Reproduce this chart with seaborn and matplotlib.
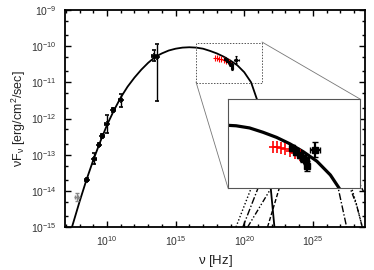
import numpy as np
import pandas as pd
import matplotlib
matplotlib.use("Agg")
import matplotlib.pyplot as plt
import matplotlib.ticker as mticker
from matplotlib.patches import Rectangle
import seaborn as sns

sns.set_theme(style="ticks")
plt.rcParams["font.family"] = ["Liberation Sans", "DejaVu Sans"]
plt.rcParams["mathtext.fontset"] = "custom"
plt.rcParams["mathtext.rm"] = "Liberation Sans"
plt.rcParams["mathtext.it"] = "Liberation Sans"
plt.rcParams["mathtext.default"] = "regular"

# synchrotron model curve (log10 nu, log10 nuFnu)
sync_lognu = [7.45, 8.0, 8.5, 9.0, 9.5, 10.0, 10.5, 11.0, 11.5, 12.0, 12.5, 13.0, 13.5,
              14.0, 14.5, 15.0, 15.5, 16.0, 16.5, 17.0, 17.5, 18.0, 18.5, 19.0, 19.5,
              20.0, 20.5, 21.0, 21.4, 21.8, 22.2]
sync_logf = [-15.0, -14.3, -13.7, -13.15, -12.65, -12.18, -11.78, -11.42, -11.12, -10.87,
             -10.65, -10.46, -10.3, -10.2, -10.12, -10.07, -10.04, -10.03, -10.04, -10.07,
             -10.13, -10.2, -10.29, -10.4, -10.53, -10.72, -11.0, -11.55, -12.3, -13.4, -15.0]

# inverse Compton components (mostly hidden behind the inset)
ic_a_lognu = [19.4, 20.5, 22.0, 24.0, 26.0, 27.5, 28.2, 28.6]
ic_a_logf = [-15.0, -13.93, -12.9, -12.3, -12.6, -13.5, -14.4, -15.0]
ic_b_lognu = [19.9, 21.0, 22.5, 24.5, 26.0, 26.85, 27.46]
ic_b_logf = [-15.0, -13.93, -12.9, -12.4, -13.0, -13.93, -15.0]
ic_c_lognu = [20.25, 21.95, 23.5, 25.0, 27.0, 28.19, 28.6]
ic_c_logf = [-15.0, -13.93, -13.0, -12.7, -13.2, -14.4, -15.0]
ic_d_lognu = [21.7, 22.55, 24.0, 26.0, 28.0, 28.8]
ic_d_logf = [-15.0, -13.93, -13.0, -12.8, -13.5, -14.1]

# radio / mm / optical points
low_lognu = [8.52, 9.07, 9.42, 9.66, 9.98, 10.46, 11.0, 13.4, 13.62]
low_logf = [-13.69, -13.11, -12.72, -12.49, -12.16, -11.76, -11.5, -10.26, -10.3]
low_err_lo = [0.05, 0.15, 0.05, 0.05, 0.25, 0.05, 0.18, 0.16, 1.22]
low_err_hi = [0.05, 0.15, 0.05, 0.05, 0.25, 0.05, 0.18, 0.16, 0.35]
gray_lognu = [7.79]
gray_logf = [-14.17]
gray_err = [0.12]

# X-ray points
red_lognu = [17.87, 18.02, 18.17, 18.32, 18.5, 18.69, 18.87]
red_logf = [-10.33, -10.33, -10.35, -10.36, -10.39, -10.42, -10.44]
red_yerr = [0.08, 0.08, 0.08, 0.08, 0.08, 0.08, 0.08]
red_xerr = [0.15, 0.15, 0.15, 0.15, 0.15, 0.15, 0.15]
blk_lognu = [18.58, 18.72, 18.87, 18.98, 19.1, 19.13, 19.43]
blk_logf = [-10.35, -10.4, -10.44, -10.49, -10.51, -10.6, -10.37]
blk_yerr = [0.05, 0.05, 0.05, 0.05, 0.06, 0.07, 0.1]
blk_xerr = [0.05, 0.05, 0.05, 0.05, 0.05, 0.05, 0.19]


def p10(v):
    return np.power(10.0, np.asarray(v, dtype=float))


def asym(logf, lo, hi):
    f = p10(logf)
    return [f - p10(np.asarray(logf) - np.asarray(lo)), p10(np.asarray(logf) + np.asarray(hi)) - f]


def xasym(lognu, e):
    n = p10(lognu)
    return [n - p10(np.asarray(lognu) - np.asarray(e)), p10(np.asarray(lognu) + np.asarray(e)) - n]


def draw_curve(ax, lognu, logf, lw, ls="-"):
    d = pd.DataFrame({"nu": p10(lognu), "f": p10(logf)})
    sns.lineplot(data=d, x="nu", y="f", ax=ax, color="black", lw=lw, linestyle=ls,
                 estimator=None, sort=False)


fig = plt.figure(figsize=(3.74, 2.70), dpi=100)
ax = fig.add_axes([65 / 374, 43 / 270, 300 / 374, 217 / 270])
ax.set_xscale("log")
ax.set_yscale("log")

draw_curve(ax, ic_a_lognu, ic_a_logf, 1.0, (0, (1, 1.5)))
draw_curve(ax, ic_b_lognu, ic_b_logf, 1.0, (0, (5, 1.5, 1, 1.5)))
draw_curve(ax, ic_c_lognu, ic_c_logf, 1.0, (0, (4, 1.5, 1, 1.5, 1, 1.5)))
draw_curve(ax, ic_d_lognu, ic_d_logf, 1.0, (0, (3, 1.5)))
draw_curve(ax, sync_lognu, sync_logf, 1.3)

ax.errorbar(p10(gray_lognu), p10(gray_logf), yerr=asym(gray_logf, gray_err, gray_err),
            xerr=xasym(gray_lognu, [0.12]), fmt="+", color="#888888", ms=4, mew=1,
            elinewidth=0.8, capsize=1.5)
ax.errorbar(p10(low_lognu), p10(low_logf), yerr=asym(low_logf, low_err_lo, low_err_hi),
            xerr=xasym(low_lognu, [0.1] * len(low_lognu)), fmt="+", color="black", ms=4,
            mew=1.2, elinewidth=1, capsize=1.5)
ax.errorbar(p10(blk_lognu), p10(blk_logf), yerr=asym(blk_logf, blk_yerr, blk_yerr),
            xerr=xasym(blk_lognu, blk_xerr), fmt="s", color="black", ms=2, mew=0.8,
            elinewidth=1, capsize=1)
ax.errorbar(p10(red_lognu), p10(red_logf), yerr=asym(red_logf, red_yerr, red_yerr),
            xerr=xasym(red_lognu, red_xerr), fmt="none", color="red", elinewidth=0.8)

ax.set_xlim(10 ** 6.94, 10 ** 28.8)
ax.set_ylim(1e-15, 1e-9)

ax.xaxis.set_major_locator(mticker.FixedLocator([1e10, 1e15, 1e20, 1e25]))
ax.xaxis.set_minor_locator(mticker.FixedLocator(p10(np.arange(7, 29))))
ax.yaxis.set_major_locator(mticker.LogLocator(base=10, numticks=10))
ax.yaxis.set_minor_locator(mticker.LogLocator(base=10, subs=(2.0, 5.0), numticks=10))
fmt = mticker.FuncFormatter(lambda v, p: r"$10^{%d}$" % int(round(np.log10(v))))
ax.xaxis.set_major_formatter(fmt)
ax.yaxis.set_major_formatter(fmt)
ax.yaxis.set_minor_formatter(mticker.NullFormatter())
ax.xaxis.set_minor_formatter(mticker.NullFormatter())
ax.tick_params(which="both", direction="in", top=True, right=True, color="black",
               labelcolor="#333333", labelsize=7.5)
ax.tick_params(which="major", length=4, width=1)
ax.tick_params(which="minor", length=2.5, width=1)
ax.tick_params(axis="y", pad=6)
ax.tick_params(axis="x", pad=5)
for s in ax.spines.values():
    s.set_linewidth(1.3)
    s.set_color("black")

ax.set_xlabel(r"$\nu$ [Hz]", fontsize=9.5, color="#222222", labelpad=4)
ax.set_ylabel(r"$\nu$F$_\nu$ [erg/cm$^2$/sec]", fontsize=9, color="#222222", labelpad=2)

# dotted zoom box and connector lines
ax.add_patch(Rectangle((10 ** 16.5, 10 ** -11.02), 10 ** 21.3 - 10 ** 16.5,
                       10 ** -9.92 - 10 ** -11.02, fill=False, ls=(0, (1.5, 1.5)),
                       lw=0.7, ec="#555555", zorder=5))

ins_rect = [228 / 374, 82 / 270, 132 / 374, 89 / 270]
fig.add_artist(plt.Line2D([262 / 374, 360 / 374], [(270 - 42) / 270, (270 - 99) / 270],
                          lw=0.6, color="#777777", transform=fig.transFigure))
fig.add_artist(plt.Line2D([196 / 374, 228 / 374], [(270 - 82) / 270, (270 - 188) / 270],
                          lw=0.6, color="#777777", transform=fig.transFigure))

ins = fig.add_axes(ins_rect)
ins.set_facecolor("white")
ins.set_xscale("log")
ins.set_yscale("log")
draw_curve(ins, sync_lognu, sync_logf, 2.3)
ins.errorbar(p10(blk_lognu), p10(blk_logf), yerr=asym(blk_logf, blk_yerr, blk_yerr),
             xerr=xasym(blk_lognu, blk_xerr), fmt="s", color="black", ms=4, mew=1,
             elinewidth=1.6, capsize=2, capthick=1.6)
ins.errorbar(p10(red_lognu), p10(red_logf), yerr=asym(red_logf, red_yerr, red_yerr),
             xerr=xasym(red_lognu, red_xerr), fmt="none", color="red", elinewidth=1.2)
ins.set_xlim(10 ** 16.2, 10 ** 21.1)
ins.set_ylim(10 ** -10.9, 10 ** -9.67)
ins.set_xlabel("")
ins.set_ylabel("")
ins.set_xticks([])
ins.set_yticks([])
ins.minorticks_off()
for s in ins.spines.values():
    s.set_linewidth(0.8)
    s.set_color("#555555")

fig.savefig("out.png", dpi=100)
